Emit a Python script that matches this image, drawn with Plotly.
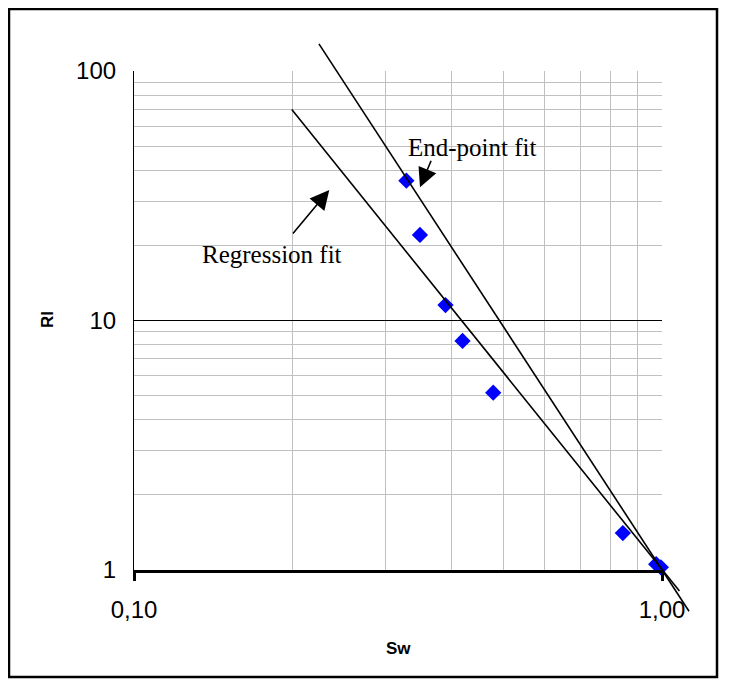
import plotly.graph_objects as go

# ---- data ----
sw_points = [0.328, 0.348, 0.389, 0.419, 0.479, 0.843, 0.975, 0.995]
ri_points = [36.3, 22.0, 11.5, 8.26, 5.12, 1.40, 1.05, 1.02]

endpoint_sw = [0.224, 1.125]
endpoint_ri = [128.5, 0.68]

regression_sw = [0.199, 1.079]
regression_ri = [70.0, 0.819]

x_tickvals = [0.1, 1.0]
x_ticktext = ["0,10", "1,00"]
x_minor = [0.2, 0.3, 0.4, 0.5, 0.6, 0.7, 0.8, 0.9]
y_tickvals = [1, 10, 100]
y_ticktext = ["1", "10", "100"]
y_minor = [2, 3, 4, 5, 6, 7, 8, 9, 20, 30, 40, 50, 60, 70, 80, 90]

# ---- geometry (pixels in the page; page body has an 8px margin) ----
OFF = 8
W, H = 733 - OFF, 685 - OFF
L, R, T, B = 134 - OFF, 692 - OFF, 40 - OFF, 615 - OFF
FX0, FX1, FY0, FY1 = 134 - OFF, 662 - OFF, 71 - OFF, 569.5 - OFF
pw, ph = R - L, B - T
dec_x = (FX1 - FX0) / 1.0
dec_y = (FY1 - FY0) / 2.0

xdom = [0, (FX1 - L) / pw]
ydom = [(B - FY1) / ph, (B - FY0) / ph]
x2range = [-1, -1 + pw / dec_x]
y2range = [-(B - FY1) / dec_y, 2 + (FY0 - T) / dec_y]

def px(xp):
    return (xp - OFF - L) / pw

def py(yp):
    return (B - (yp - OFF)) / ph

fig = go.Figure()

fig.add_trace(go.Scatter(
    x=sw_points, y=ri_points, mode="markers",
    marker=dict(symbol="diamond", size=12.5, color="#0000ff"),
    cliponaxis=False, xaxis="x", yaxis="y", showlegend=False))

fig.add_trace(go.Scatter(
    x=endpoint_sw, y=endpoint_ri, mode="lines",
    line=dict(color="black", width=1.6), xaxis="x2", yaxis="y2", showlegend=False))
fig.add_trace(go.Scatter(
    x=regression_sw, y=regression_ri, mode="lines",
    line=dict(color="black", width=1.6), xaxis="x2", yaxis="y2", showlegend=False))

tickfont = dict(family="Liberation Sans, Arial, sans-serif", size=24, color="black")

fig.update_layout(
    width=W, height=H,
    margin=dict(l=L, r=W - R, t=T, b=H - B, pad=0),
    paper_bgcolor="white", plot_bgcolor="rgba(0,0,0,0)",
    showlegend=False,
    xaxis=dict(type="log", domain=xdom, range=[-1, 0], anchor="y",
               tickvals=x_tickvals, ticktext=x_ticktext, tickfont=tickfont,
               ticks="outside", ticklen=9, tickwidth=2.5, tickcolor="black",
               showline=True, linewidth=2.5, linecolor="black",
               showgrid=False, zeroline=False, ticklabelstandoff=8,
               minor=dict(tickvals=x_minor, showgrid=True, gridcolor="#c0c0c0",
                          gridwidth=1, ticks="")),
    yaxis=dict(type="log", domain=ydom, range=[0, 2], anchor="x",
               tickvals=y_tickvals, ticktext=y_ticktext, tickfont=tickfont,
               ticks="", showline=True, linewidth=1.2, linecolor="black",
               showgrid=True, gridcolor="black", gridwidth=1, zeroline=False,
               ticklabelstandoff=12,
               minor=dict(tickvals=y_minor, showgrid=True, gridcolor="#c0c0c0",
                          gridwidth=1, ticks="")),
    yaxis3=dict(type="log", range=[0, 2], overlaying="y", anchor="x", side="right",
                tickvals=[10, 100], showticklabels=False,
                ticks="outside", ticklen=9, tickwidth=2.5, tickcolor="black",
                showline=True, linewidth=2.5, linecolor="black",
                showgrid=False, zeroline=False),
    yaxis4=dict(type="log", range=[0, 2], overlaying="y", anchor="x", side="right",
                tickvals=[10, 100], showticklabels=False,
                ticks="inside", ticklen=9, tickwidth=2.5, tickcolor="black",
                showline=False, showgrid=False, zeroline=False),
    xaxis2=dict(type="log", domain=[0, 1], range=x2range, anchor="y2",
                visible=False, showgrid=False, zeroline=False),
    yaxis2=dict(type="log", domain=[0, 1], range=y2range, anchor="x2",
                visible=False, showgrid=False, zeroline=False),
)

serif = dict(family="Liberation Serif, Times New Roman, serif", size=25, color="black")
bold = dict(family="Liberation Sans, Arial, sans-serif", size=17, color="black")

fig.add_annotation(text="End-point fit", x=px(472.5), y=py(147), xref="paper", yref="paper",
                   showarrow=False, font=serif, xanchor="center", yanchor="middle")
fig.add_annotation(text="Regression fit", x=px(271.5), y=py(255), xref="paper", yref="paper",
                   showarrow=False, font=serif, xanchor="center", yanchor="middle")

fig.add_annotation(text="", x=px(420), y=py(187.3), xref="paper", yref="paper",
                   showarrow=True, ax=11.7, ay=-28, axref="pixel", ayref="pixel",
                   arrowhead=2, arrowsize=2.4, arrowwidth=1.6, arrowcolor="black", standoff=0)
fig.add_annotation(text="", x=px(329.3), y=py(190), xref="paper", yref="paper",
                   showarrow=True, ax=-37.6, ay=45, axref="pixel", ayref="pixel",
                   arrowhead=2, arrowsize=2.4, arrowwidth=1.6, arrowcolor="black", standoff=0)

fig.add_annotation(text="<b>Sw</b>", x=px(398), y=py(648), xref="paper", yref="paper",
                   showarrow=False, font=bold, xanchor="center", yanchor="middle")
fig.add_annotation(text="<b>RI</b>", x=px(47), y=py(320), xref="paper", yref="paper",
                   showarrow=False, font=bold, textangle=-90, xanchor="center", yanchor="middle")

fig.add_shape(type="rect", xref="paper", yref="paper",
              x0=px(9), x1=px(717), y0=py(677), y1=py(9),
              line=dict(color="black", width=2.5), fillcolor="rgba(0,0,0,0)", layer="below")

fig.write_html("out.html")
